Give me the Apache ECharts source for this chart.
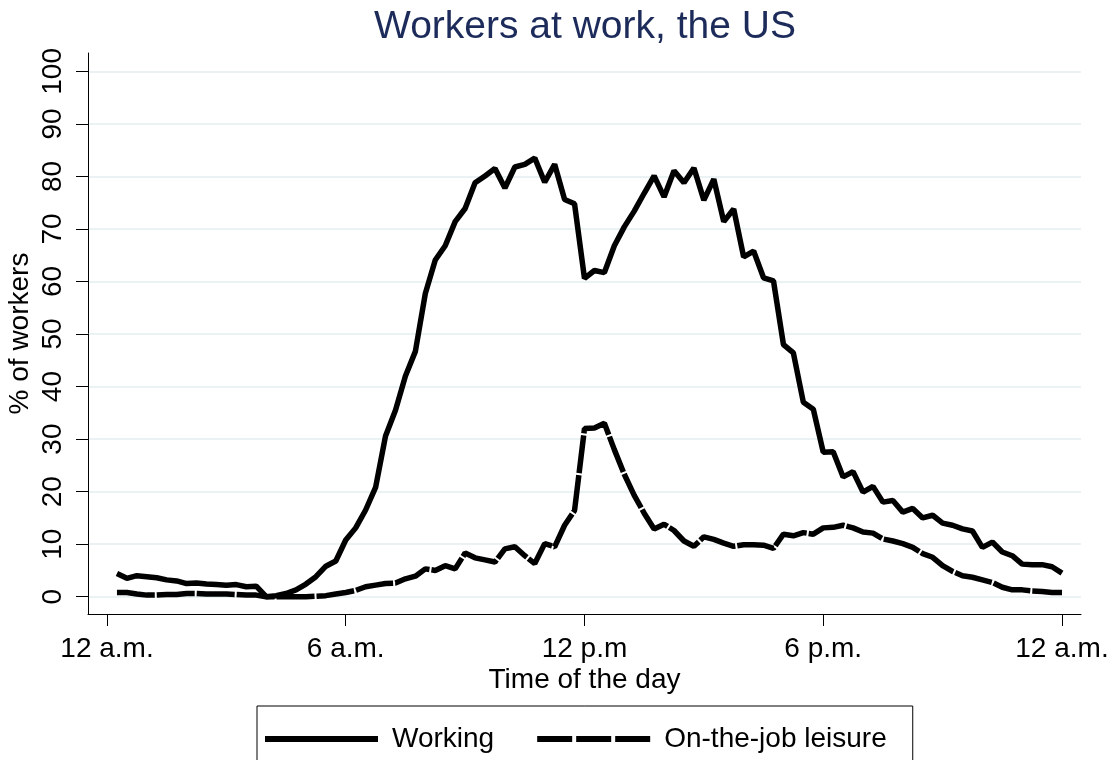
<!DOCTYPE html>
<html>
<head>
<meta charset="utf-8">
<script src="https://cdn.jsdelivr.net/npm/echarts@6/dist/echarts.min.js"></script>
<style>html,body{margin:0;padding:0;background:#fff}#chart{width:1119px;height:760px}</style>
</head>
<body>
<div id="chart"></div>
<script>
// ---- data ----
const titleText = 'Workers at work, the US';
const seriesNames = ['Working', 'On-the-job leisure'];
const xAxisTitle = 'Time of the day';
const yAxisTitle = '% of workers';
const xTickHours = [0, 6, 12, 18, 24];
const xTickLabels = ['12 a.m.', '6 a.m.', '12 p.m', '6 p.m.', '12 a.m.'];
const yTickValues = [0, 10, 20, 30, 40, 50, 60, 70, 80, 90, 100];

// time of day in hours (15-minute steps)
const timeOfDay = [
  0.25, 0.5, 0.75, 1, 1.25, 1.5, 1.75, 2, 2.25, 2.5, 2.75, 3,
  3.25, 3.5, 3.75, 4, 4.25, 4.5, 4.75, 5, 5.25, 5.5, 5.75, 6,
  6.25, 6.5, 6.75, 7, 7.25, 7.5, 7.75, 8, 8.25, 8.5, 8.75, 9,
  9.25, 9.5, 9.75, 10, 10.25, 10.5, 10.75, 11, 11.25, 11.5, 11.75, 12,
  12.25, 12.5, 12.75, 13, 13.25, 13.5, 13.75, 14, 14.25, 14.5, 14.75, 15,
  15.25, 15.5, 15.75, 16, 16.25, 16.5, 16.75, 17, 17.25, 17.5, 17.75, 18,
  18.25, 18.5, 18.75, 19, 19.25, 19.5, 19.75, 20, 20.25, 20.5, 20.75, 21,
  21.25, 21.5, 21.75, 22, 22.25, 22.5, 22.75, 23, 23.25, 23.5, 23.75, 24
];

const working = [
  4.4, 3.5, 4.0, 3.8, 3.6, 3.2, 3.0, 2.5, 2.6, 2.4, 2.3, 2.2,
  2.3, 1.9, 2.0, 0.0, 0.2, 0.6, 1.3, 2.4, 3.8, 5.8, 6.8, 10.8,
  13.1, 16.5, 20.8, 30.6, 35.5, 42.0, 46.7, 57.7, 64.1, 66.8, 71.4, 73.9,
  78.8, 80.1, 81.5, 77.8, 81.8, 82.3, 83.5, 78.9, 82.3, 75.6, 74.8, 60.6,
  62.1, 61.7, 66.8, 70.4, 73.4, 76.8, 80.1, 76.1, 81.1, 78.8, 81.6, 75.5,
  79.5, 71.4, 73.8, 64.7, 65.8, 60.7, 60.1, 48.0, 46.4, 37.0, 35.7, 27.5,
  27.6, 22.8, 23.8, 19.9, 21.0, 18.0, 18.3, 16.1, 16.8, 15.0, 15.5, 14.0,
  13.6, 12.9, 12.5, 9.4, 10.4, 8.5, 7.8, 6.2, 6.1, 6.1, 5.7, 4.5
];

const leisure = [
  0.8, 0.8, 0.5, 0.3, 0.3, 0.4, 0.4, 0.6, 0.6, 0.5, 0.5, 0.5,
  0.4, 0.3, 0.3, 0.0, 0.0, 0.0, 0.0, 0.0, 0.1, 0.2, 0.5, 0.8,
  1.2, 1.9, 2.2, 2.5, 2.6, 3.4, 3.9, 5.3, 5.0, 5.9, 5.3, 8.3,
  7.4, 7.0, 6.6, 9.1, 9.5, 7.8, 6.3, 10.1, 9.5, 13.6, 16.4, 32.0,
  32.1, 33.0, 28.0, 23.3, 19.3, 15.9, 12.9, 13.8, 12.6, 10.6, 9.6, 11.4,
  10.9, 10.2, 9.6, 9.9, 9.9, 9.8, 9.2, 11.9, 11.6, 12.2, 11.9, 13.1,
  13.2, 13.6, 13.1, 12.3, 12.1, 11.0, 10.6, 10.1, 9.4, 8.2, 7.5, 5.9,
  4.8, 4.0, 3.7, 3.2, 2.7, 1.8, 1.3, 1.3, 1.1, 1.0, 0.8, 0.8
];

// ---- chart ----
const FONT = 'Liberation Sans';
const chart = echarts.init(document.getElementById('chart'), null, { renderer: 'canvas' });

const option = {
  backgroundColor: '#ffffff',
  animation: false,
  graphic: [{
    type: 'text',
    x: 585, y: 27,
    silent: true,
    style: {
      text: titleText, x: 0, y: 0,
      align: 'center', verticalAlign: 'middle',
      font: '39px "Liberation Sans"', fill: '#1C2B5A'
    }
  }],
  grid: { left: 88, right: 38, top: 53, bottom: 146, containLabel: false, outerBoundsMode: 'none' },
  xAxis: {
    type: 'value', min: -0.4775, max: 24.478,
    name: xAxisTitle, nameLocation: 'middle', nameGap: 52, nameMoveOverlap: false,
    nameTextStyle: { fontFamily: FONT, fontSize: 28, color: '#000' },
    axisLine: { show: true, onZero: false, lineStyle: { color: '#000', width: 1 } },
    axisTick: { show: true, length: 12, customValues: xTickHours, lineStyle: { color: '#000', width: 1 } },
    axisLabel: {
      customValues: xTickHours, margin: 21, fontFamily: FONT, fontSize: 28, color: '#000',
      formatter: v => xTickLabels[xTickHours.indexOf(v)]
    },
    splitLine: { show: false }
  },
  yAxis: {
    type: 'value', min: -3.295, max: 103.5,
    name: yAxisTitle, nameLocation: 'middle', nameGap: 54, nameRotate: 90, nameMoveOverlap: false,
    nameTextStyle: { fontFamily: FONT, fontSize: 28, color: '#000' },
    axisLine: { show: true, onZero: false, lineStyle: { color: '#000', width: 1 } },
    axisTick: { show: true, length: 12, customValues: yTickValues, lineStyle: { color: '#000', width: 1 } },
    axisLabel: {
      customValues: yTickValues, rotate: 90, margin: 21, fontFamily: FONT, fontSize: 28, color: '#000',
      formatter: v => String(v)
    },
    splitLine: { show: true, lineStyle: { color: '#EAF2F4', width: 2 } }
  },
  legend: {
    left: 257, top: 706, orient: 'horizontal',
    padding: [19, 26, 22, 8],
    borderColor: '#000', borderWidth: 1, borderRadius: 0,
    itemWidth: 113, itemHeight: 6, itemGap: 43,
    itemStyle: { borderWidth: 0 },
    textStyle: { fontFamily: FONT, fontSize: 28, color: '#000', padding: [0, 0, 0, 9] },
    data: [
      { name: seriesNames[0], icon: 'path://M0,0H113V6H0Z' },
      { name: seriesNames[1], icon: 'path://M0,0H35V6H0Z M39,0H74V6H39Z M78,0H113V6H78Z' }
    ]
  },
  series: [
    {
      name: seriesNames[0], type: 'line', symbol: 'none', showSymbol: false,
      data: timeOfDay.map((t, i) => [t, working[i]]),
      lineStyle: { color: '#000', width: 5.5 },
      itemStyle: { color: '#000' },
      emphasis: { disabled: true }
    },
    {
      name: seriesNames[1], type: 'line', symbol: 'none', showSymbol: false,
      data: timeOfDay.map((t, i) => [t, leisure[i]]),
      lineStyle: { color: '#000', width: 5.5, type: [38, 2] },
      itemStyle: { color: '#000' },
      emphasis: { disabled: true }
    }
  ]
};
chart.setOption(option);
</script>
</body>
</html>
